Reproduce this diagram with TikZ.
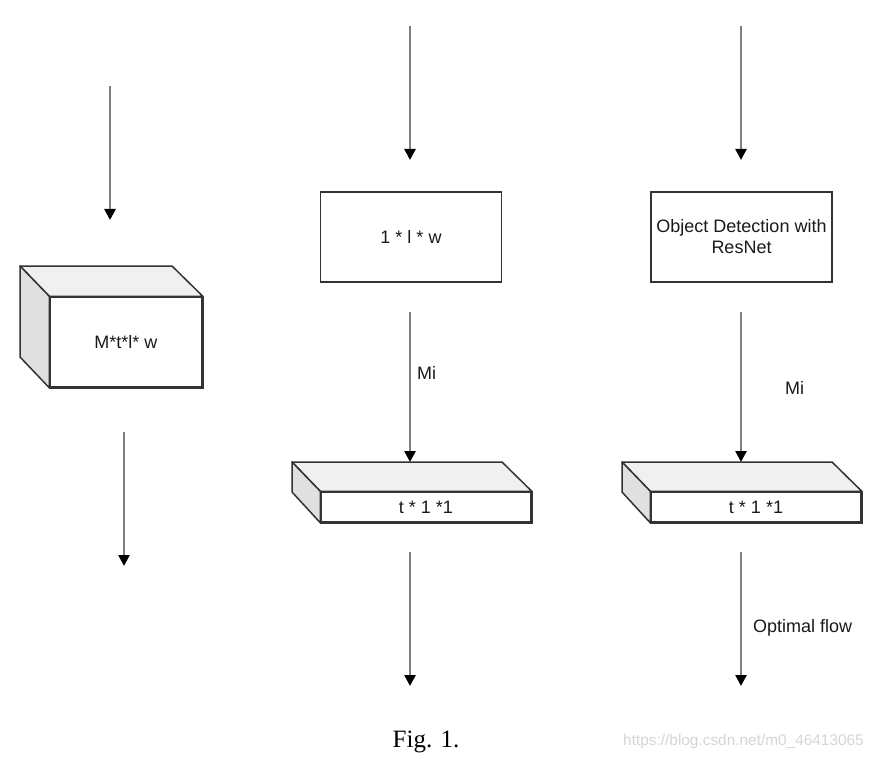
\documentclass[tikz,border=0pt]{standalone}
\usepackage{fontspec}
\setmainfont{Liberation Sans}
\newfontfamily\serifcap{Liberation Serif}
\usetikzlibrary{arrows.meta}
\definecolor{edgegray}{HTML}{333333}
\definecolor{topgray}{HTML}{F0F0F0}
\definecolor{sidegray}{HTML}{E0E0E0}
\definecolor{linkgray}{HTML}{808080}
\definecolor{txtgray}{HTML}{1A1A1A}
\definecolor{wmgray}{HTML}{D6D6D6}
\begin{document}
\begin{tikzpicture}[x={(1pt,0pt)},y={(0pt,-1pt)},
  face/.style={draw=edgegray,line width=1.5pt,fill=white,inner sep=0pt,
    font=\fontsize{18}{21}\selectfont,text=txtgray,align=center},
  topface/.style={draw=edgegray,line width=1.5pt,fill=topgray,line join=round},
  sideface/.style={draw=edgegray,line width=1.5pt,fill=sidegray,line join=round},
  link/.style={draw=linkgray,line width=2.5pt,-{Triangle[length=11pt,width=11pt,color=black]}},
  lbl/.style={font=\fontsize{18}{21}\selectfont,text=txtgray,anchor=west,inner sep=0pt}]
\useasboundingbox[fill=white] (0,0) rectangle (888,759);

% ---------- left column: cube ----------
\coordinate (cbNW) at (20,266);
\coordinate (cbNE) at (172,266);
\coordinate (cbSW) at (20,357);
\node[face,minimum width=152pt,minimum height=90pt] (cube) at (126,342) {M*t*l* w};
\draw[topface] (cube.north west) -- (cbNW) -- (cbNE) -- (cube.north east) -- cycle;
\draw[sideface] (cube.north west) -- (cbNW) -- (cbSW) -- (cube.south west) -- cycle;
\draw[draw=edgegray,line width=1.5pt] (cube.north west) rectangle (cube.south east);

\coordinate (a1s) at (110,86);
\coordinate (a1e) at (110,220);
\coordinate (a2s) at (124,432);
\coordinate (a2e) at (124,566);
\draw[link] (a1s) -- (a1e);
\draw[link] (a2s) -- (a2e);

% ---------- middle column ----------
\node[face,minimum width=181pt,minimum height=90pt] (rectM) at (411,237) {1 * l * w};
\coordinate (mNW) at (292,462);
\coordinate (mNE) at (502,462);
\coordinate (mSW) at (292,492);
\node[face,minimum width=210pt,minimum height=30pt] (flatM) at (426,507) {t * 1 *1};
\draw[topface] (flatM.north west) -- (mNW) -- (mNE) -- (flatM.north east) -- cycle;
\draw[sideface] (flatM.north west) -- (mNW) -- (mSW) -- (flatM.south west) -- cycle;
\draw[draw=edgegray,line width=1.5pt] (flatM.north west) rectangle (flatM.south east);

\coordinate (m1s) at (410,26);
\coordinate (m1e) at (410,160);
\coordinate (m2s) at (410,312);
\coordinate (m2e) at (410,462);
\coordinate (m3s) at (410,552);
\coordinate (m3e) at (410,686);
\draw[link] (m1s) -- (m1e);
\draw[link] (m2s) -- (m2e);
\draw[link] (m3s) -- (m3e);
\node[lbl] (miM) at (417,373) {Mi};

% ---------- right column ----------
\node[face,minimum width=181pt,minimum height=90pt] (rectR) at (741.5,237) {Object Detection with\\ResNet};
\coordinate (rNW) at (622,462);
\coordinate (rNE) at (832,462);
\coordinate (rSW) at (622,492);
\node[face,minimum width=210pt,minimum height=30pt] (flatR) at (756,507) {t * 1 *1};
\draw[topface] (flatR.north west) -- (rNW) -- (rNE) -- (flatR.north east) -- cycle;
\draw[sideface] (flatR.north west) -- (rNW) -- (rSW) -- (flatR.south west) -- cycle;
\draw[draw=edgegray,line width=1.5pt] (flatR.north west) rectangle (flatR.south east);

\coordinate (r1s) at (741,26);
\coordinate (r1e) at (741,160);
\coordinate (r2s) at (741,312);
\coordinate (r2e) at (741,462);
\coordinate (r3s) at (741,552);
\coordinate (r3e) at (741,686);
\draw[link] (r1s) -- (r1e);
\draw[link] (r2s) -- (r2e);
\draw[link] (r3s) -- (r3e);
\node[lbl] (miR) at (785,388) {Mi};
\node[lbl] (flowlbl) at (753,628) {Optimal flow};

% ---------- caption ----------
\node[font=\serifcap\fontsize{25}{28}\selectfont,inner sep=0pt] (cap) at (426,742) {Fig. 1.};
\node[font=\fontsize{15.4}{18}\selectfont,text=wmgray,anchor=west,inner sep=0pt] (wm) at (623,742) {https://blog.csdn.net/m0\_46413065};
\end{tikzpicture}
\end{document}
